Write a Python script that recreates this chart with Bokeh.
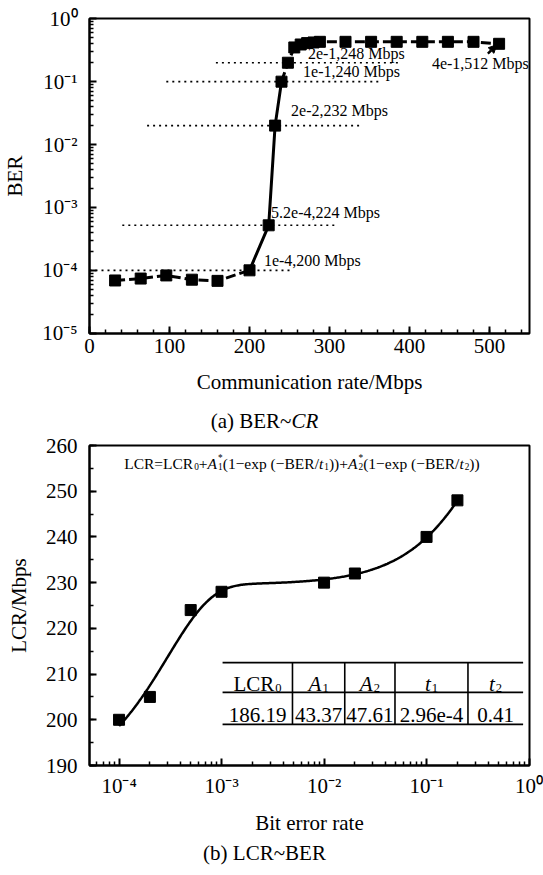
import numpy as np
from bokeh.plotting import figure
from bokeh.layouts import column
from bokeh.models import (ColumnDataSource, FixedTicker, Range1d, Arrow, Div,
                          NormalHead, CustomJSTickFormatter)
from bokeh.core.properties import value, field
from bokeh.embed import file_html
from bokeh.resources import INLINE

SERIF = "Liberation Serif"

# ---------------- (a) BER against communication rate ----------------
rate_mbps = [32, 64, 96, 128, 160, 200, 224, 232, 240, 248,
             256, 264, 272, 280, 288, 320, 352, 384, 416, 448, 480, 512]
ber_a = [6.9e-5, 7.4e-5, 8.3e-5, 7.1e-5, 6.8e-5, 1e-4, 5.2e-4, 2e-2, 1e-1, 2e-1,
         0.35, 0.39, 0.41, 0.42, 0.43, 0.43, 0.43, 0.43, 0.43, 0.43, 0.43, 0.4]
# points that carry a "BER,rate Mbps" note
noted_idx = [9, 8, 7, 21, 6, 5]
x_ticks_a = [0, 100, 200, 300, 400, 500]

# ---------------- (b) LCR against BER ----------------
ber_b = [1e-4, 2e-4, 5e-4, 1e-3, 1e-2, 2e-2, 1e-1, 2e-1]
lcr_b = [200, 205, 224, 228, 230, 232, 240, 248]
# fitted parameters: LCR0, A1, A2, t1, t2
fit_labels = ["186.19", "43.37", "47.61", "2.96e-4", "0.41"]
fit_params = [float(s) for s in fit_labels]
y_ticks_b = [190, 200, 210, 220, 230, 240, 250, 260]

# ---------------- text-run helper (Times metrics) ----------------
ROMAN = {'L': 611, 'C': 667, 'R': 667, '=': 564, '+': 564, '(': 333, ')': 333,
         '−': 564, 'e': 444, 'x': 500, 'p': 500, ' ': 250, 'B': 667, 'E': 611,
         '/': 278, '*': 500, 'a': 444, 'b': 500, '~': 541, '.': 250, '-': 333}
ITALIC = {'A': 611, 't': 278, 'C': 667, 'R': 611}


def text_width(s, size, italic=False):
    tab = ITALIC if italic else ROMAN
    return sum(tab.get(ch, ROMAN.get(ch, 500)) for ch in s) * size / 1000.0


def layout_runs(parts, size):
    runs = []
    x = 0.0
    small = size * 0.6
    for part in parts:
        kind = part[0]
        if kind == "n":
            runs.append((part[1], x, 0.0, size, "normal"))
            x += text_width(part[1], size)
        elif kind == "i":
            runs.append((part[1], x, 0.0, size, "italic"))
            x += text_width(part[1], size, True)
        elif kind == "sub":
            runs.append((part[1], x + 1, size * 0.22, small, "normal"))
            x += text_width(part[1], small) + 1
        elif kind == "supsub":
            runs.append((part[1], x + 1, -size * 0.36, small, "normal"))
            runs.append((part[2], x + 1, size * 0.22, small, "normal"))
            x += max(text_width(part[1], small), text_width(part[2], small)) + 1
    return runs, x


def add_runs(cols, x, y, parts, size, center=False):
    runs, total = layout_runs(parts, size)
    shift = -total / 2 if center else 0.0
    for text, dx, dy, fs, style in runs:
        cols["x"].append(x)
        cols["y"].append(y)
        cols["text"].append(text)
        cols["xo"].append(dx + shift)
        cols["yo"].append(dy)
        cols["size"].append(f"{fs:.1f}px")
        cols["style"].append(style)


def new_cols():
    return {k: [] for k in ["x", "y", "text", "xo", "yo", "size", "style"]}


def sci(v):
    mant, exp = f"{v:.1e}".split("e")
    mant = mant.rstrip("0").rstrip(".")
    return f"{mant}e{int(exp)}"


SUP_JS = """
const sup = {"-": "\u207b", "0": "\u2070", "1": "\u00b9", "2": "\u00b2", "3": "\u00b3",
             "4": "\u2074", "5": "\u2075", "6": "\u2076", "7": "\u2077", "8": "\u2078", "9": "\u2079"};
const e = Math.round(Math.log10(tick));
return "10" + String(e).split("").map(c => sup[c]).join("");
"""


def style_axes(p):
    p.outline_line_color = "black"
    p.outline_line_width = 2
    p.xgrid.visible = False
    p.ygrid.visible = False
    p.background_fill_color = "white"
    p.border_fill_color = "white"
    for ax in p.axis:
        ax.axis_line_width = 2
        ax.major_tick_in = 7
        ax.major_tick_out = 0
        ax.minor_tick_in = 4
        ax.minor_tick_out = 0
        ax.major_tick_line_width = 2
        ax.minor_tick_line_width = 1.5
        ax.major_label_text_font = SERIF
        ax.major_label_text_font_size = "21px"
        ax.major_label_text_color = "black"
        ax.axis_label_text_font = SERIF
        ax.axis_label_text_font_size = "21px"
        ax.axis_label_text_font_style = "normal"
        ax.axis_label_text_color = "black"


def caption(html, height, line_h, left, frame_w):
    return Div(text=html, width=543, height=height, margin=(0, 0, 0, 0),
               styles={"font-family": SERIF, "font-size": "21px", "color": "black",
                       "line-height": f"{line_h}px", "text-align": "center",
                       "padding-left": f"{left}px", "width": f"{frame_w}px",
                       "background": "white"})


# ======================= figure (a) =======================
pa = figure(width=543, height=405, y_axis_type="log",
            x_range=Range1d(0, 550), y_range=Range1d(0.99e-5, 1.01),
            output_backend="svg", toolbar_location=None,
            min_border_left=84, min_border_right=14, min_border_top=18,
            min_border_bottom=72)
style_axes(pa)
pa.xaxis.axis_label = "Communication rate/Mbps"
pa.yaxis.axis_label = "BER"
pa.xaxis.ticker = FixedTicker(ticks=x_ticks_a,
                              minor_ticks=list(range(0, 551, 20)))
decades_a = [10.0 ** k for k in range(-5, 1)]
pa.yaxis.ticker = FixedTicker(ticks=decades_a,
                              minor_ticks=[m * 10.0 ** k for k in range(-5, 0) for m in range(2, 10)])
pa.yaxis.formatter = CustomJSTickFormatter(code=SUP_JS)
pa.xaxis.major_label_standoff = 5
pa.yaxis.major_label_standoff = 12
pa.xaxis.axis_label_standoff = 14
pa.yaxis.axis_label_standoff = 12

# dotted guide lines at the noted BER levels
guide_idx = [5, 6, 7, 8, 9]
guide_span = [(0, 255), (41, 306), (72, 337), (96, 362), (158, 390)]
pa.segment(x0=[s[0] for s in guide_span], x1=[s[1] for s in guide_span],
           y0=[ber_a[i] for i in guide_idx], y1=[ber_a[i] for i in guide_idx],
           line_color="black", line_width=1.6, line_dash="2 4")

# series: dashed in the flat regions, solid through the transition
pa.line(rate_mbps[:6], ber_a[:6], line_color="black", line_width=3, line_dash="10 4")
pa.line(rate_mbps[5:9], ber_a[5:9], line_color="black", line_width=3)
pa.line(rate_mbps[8:], ber_a[8:], line_color="black", line_width=3, line_dash="10 4")
pa.scatter(rate_mbps, ber_a, marker="square", size=11, fill_color="black", line_color="black")

note_pos = [(273, 0.278), (267, 0.144), (252, 0.0347), (428, 0.193), (227, 8.3e-4), (218, 1.44e-4)]
notes = ColumnDataSource(dict(
    x=[q[0] for q in note_pos], y=[q[1] for q in note_pos],
    text=[f"{sci(ber_a[i])},{rate_mbps[i]} Mbps" for i in noted_idx]))
pa.text(x="x", y="y", text="text", source=notes, text_font=value(SERIF),
        text_font_size="16px", text_align="left", text_baseline="middle", text_color="black")
pa.add_layout(Arrow(end=NormalHead(size=8, fill_color="black", line_color="black"),
                    x_start=498, y_start=0.278, x_end=509, y_end=0.385,
                    line_color="black", line_width=2.5))
cap_a = caption("(a) BER~<i>CR</i>", 30, 32, 84, 445)

# ======================= figure (b) =======================
pb = figure(width=543, height=405, x_axis_type="log",
            x_range=Range1d(5.15e-5, 1.01), y_range=Range1d(190, 260),
            output_backend="svg", toolbar_location=None,
            min_border_left=82, min_border_right=14, min_border_top=10,
            min_border_bottom=75)
style_axes(pb)
pb.xaxis.axis_label = "Bit error rate"
pb.yaxis.axis_label = "LCR/Mbps"
decades_b = [10.0 ** k for k in range(-4, 1)]
pb.xaxis.ticker = FixedTicker(ticks=decades_b,
                              minor_ticks=[m * 10.0 ** k for k in range(-5, 0) for m in range(2, 10)])
pb.xaxis.formatter = CustomJSTickFormatter(code=SUP_JS)
pb.yaxis.ticker = FixedTicker(ticks=y_ticks_b, minor_ticks=list(range(190, 261, 5)))
pb.xaxis.major_label_standoff = 8
pb.yaxis.major_label_standoff = 12
pb.xaxis.axis_label_standoff = 10
pb.yaxis.axis_label_standoff = 12

# fitted curve from the tabulated parameters
c0, a1, a2, t1, t2 = fit_params
ber_curve = np.logspace(np.log10(ber_b[0]), np.log10(ber_b[-1]), 300)
lcr_curve = c0 + a1 * (1 - np.exp(-ber_curve / t1)) + a2 * (1 - np.exp(-ber_curve / t2))
pb.line(ber_curve, lcr_curve, line_color="black", line_width=2.5)
pb.scatter(ber_b, lcr_b, marker="square", size=11, fill_color="black", line_color="black")

# parameter table
col_edges = [10 ** e for e in (-2.99, -2.308, -1.798, -1.308, -0.596, -0.058)]
row_lines = [212.5, 206.0, 199.0]
pb.segment(x0=[col_edges[0]] * 3, x1=[col_edges[-1]] * 3, y0=row_lines, y1=row_lines,
           line_color="black", line_width=1.6)
pb.segment(x0=col_edges[1:-1], x1=col_edges[1:-1], y0=[row_lines[0]] * 4, y1=[row_lines[-1]] * 4,
           line_color="black", line_width=1.6)

tcols = new_cols()
headers = [[("n", "LCR"), ("sub", "0")], [("i", "A"), ("sub", "1")], [("i", "A"), ("sub", "2")],
           [("i", "t"), ("sub", "1")], [("i", "t"), ("sub", "2")]]
centers = [10 ** ((np.log10(col_edges[k]) + np.log10(col_edges[k + 1])) / 2) for k in range(5)]
for cx, head, lab in zip(centers, headers, fit_labels):
    add_runs(tcols, cx, 207.9, head, 21, center=True)
    add_runs(tcols, cx, 201.1, [("n", lab)], 21, center=True)

# fit equation
eq_parts = [("n", "LCR=LCR"), ("sub", "0"), ("n", "+"), ("i", "A"), ("supsub", "*", "1"),
            ("n", "(1−exp (−BER/"), ("i", "t"), ("sub", "1"), ("n", "))+"), ("i", "A"),
            ("supsub", "*", "2"), ("n", "(1−exp (−BER/"), ("i", "t"), ("sub", "2"), ("n", "))")]
add_runs(tcols, 10 ** -3.95, 256.06, eq_parts, 15.5)

pb.text(x="x", y="y", text="text", source=ColumnDataSource(tcols), text_font=value(SERIF),
        text_font_size=field("size"), text_font_style=field("style"),
        x_offset=field("xo"), y_offset=field("yo"),
        text_align="left", text_baseline="alphabetic", text_color="black")
cap_b = caption("(b) LCR~BER", 35, 26, 82, 447)

layout = column(pa, cap_a, pb, cap_b, spacing=0)
open("out.html", "w").write(file_html(layout, INLINE))
